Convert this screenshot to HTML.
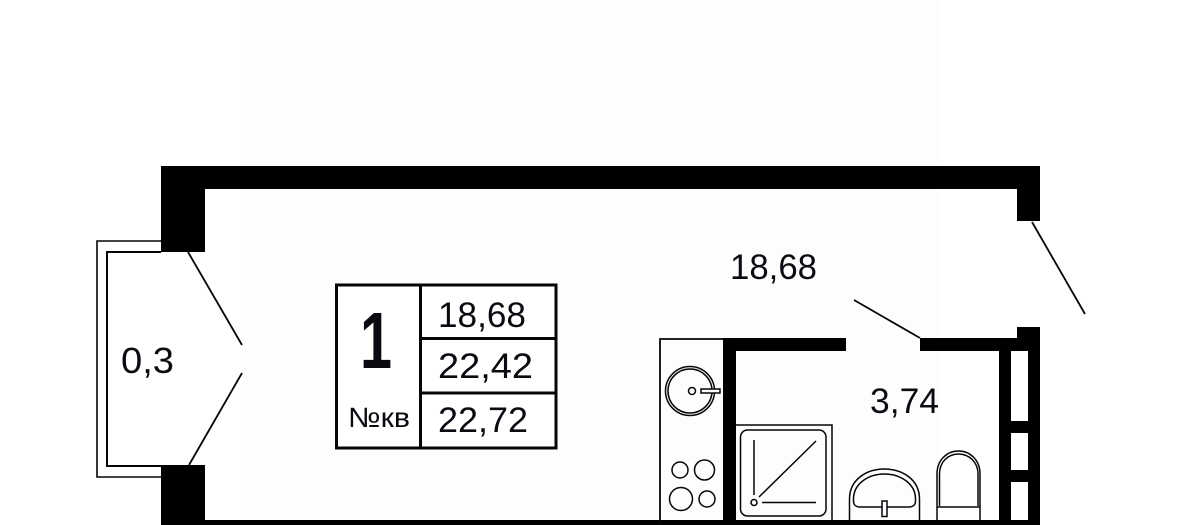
<!DOCTYPE html>
<html>
<head>
<meta charset="utf-8">
<style>
html,body{margin:0;padding:0;background:#fff;width:1182px;height:525px;overflow:hidden}
svg{display:block}
text{font-family:"Liberation Sans","DejaVu Sans",sans-serif;fill:#0a0a10}
</style>
</head>
<body>
<svg width="1182" height="525" viewBox="0 0 1182 525" xmlns="http://www.w3.org/2000/svg">
<rect width="1182" height="525" fill="#fff"/>
<rect x="240" y="0" width="700" height="525" fill="#fdfdfe"/>
<rect x="96" y="240" width="146" height="240" fill="#fff"/>
<!-- balcony -->
<g fill="none" stroke="#05050a" stroke-width="1.600">
<path d="M161 241H97V477H161"/>
<path d="M161 252H107V466H161" stroke-width="2"/>
</g>
<!-- walls -->
<g fill="#000">
<rect x="161" y="166" width="879" height="23"/>
<rect x="161" y="166" width="44" height="86"/>
<rect x="161" y="465" width="44" height="60"/>
<rect x="161" y="520" width="879" height="5"/>
<rect x="1017" y="166" width="23" height="55"/>
<rect x="1017" y="327" width="23" height="24"/>
<rect x="723" y="338" width="123" height="13"/>
<rect x="920" y="338" width="97" height="13"/>
<rect x="723" y="338" width="13" height="187"/>
<rect x="999" y="338" width="12" height="187"/>
<rect x="1028" y="327" width="12" height="198"/>
<rect x="999" y="421" width="41" height="12"/>
<rect x="999" y="470" width="41" height="12"/>
</g>
<!-- doors -->
<g stroke="#05050a" stroke-width="1.800" fill="none">
<path d="M188 252L242 345"/>
<path d="M242 373L189 465"/>
<path d="M1032 222L1085 314"/>
<path d="M854 300L920 338"/>
</g>
<!-- table -->
<g fill="none" stroke="#05050a" stroke-width="3">
<rect x="336.500" y="285" width="219.500" height="163" fill="#fff"/>
<path d="M420.500 285V448M420.500 338.500H556M420.500 393H556"/>
</g>
<text x="438" y="327" font-size="35" textLength="88" lengthAdjust="spacingAndGlyphs">18,68</text>
<text x="438" y="378" font-size="35" textLength="95" lengthAdjust="spacingAndGlyphs">22,42</text>
<text x="438" y="432" font-size="35" textLength="90" lengthAdjust="spacingAndGlyphs">22,72</text>
<text x="360" y="368" font-size="80" font-weight="700" textLength="32" lengthAdjust="spacingAndGlyphs">1</text>
<text x="348" y="427" font-size="28" textLength="62" lengthAdjust="spacingAndGlyphs">№кв</text>
<text x="730" y="279" font-size="35" textLength="87" lengthAdjust="spacingAndGlyphs">18,68</text>
<text x="870" y="413" font-size="35" textLength="69" lengthAdjust="spacingAndGlyphs">3,74</text>
<text x="121" y="373" font-size="36" textLength="53" lengthAdjust="spacingAndGlyphs">0,3</text>
<!-- kitchen -->
<g fill="none" stroke="#05050a" stroke-width="1.500">
<path d="M660 525V339H723" stroke-width="1.800"/>
<circle cx="690" cy="391" r="24.500"/>
<circle cx="690" cy="391" r="22"/>
<circle cx="692" cy="391" r="3.500"/>
<rect x="701" y="389" width="19" height="4" fill="#fff"/>
<circle cx="680" cy="470" r="8"/>
<circle cx="704.500" cy="470" r="10"/>
<circle cx="681" cy="499" r="11.500"/>
<circle cx="707" cy="499" r="8"/>
</g>
<!-- shower -->
<g fill="none" stroke="#05050a" stroke-width="1.500">
<path d="M736 425H832V520"/>
<rect x="740.500" y="430" width="85.500" height="86" rx="7"/>
<path d="M754 440V495"/>
<path d="M759 497L816 441"/>
<path d="M762 502.500H816"/>
<circle cx="754" cy="502.500" r="3"/>
</g>
<!-- basin -->
<g fill="none" stroke="#05050a" stroke-width="1.500">
<path d="M849.500 520V499C849.500 480 866 469 884.500 469C903 469 919.500 480 919.500 499V520"/>
<path d="M853.500 499C853.500 484 868 474 884.500 474C901 474 915.500 484 915.500 499V501C915.500 505 913 507 909 507H860C856 507 853.500 505 853.500 501Z"/>
<rect x="882" y="501" width="5" height="15.500" fill="#fff"/>
</g>
<!-- toilet -->
<g fill="none" stroke="#05050a" stroke-width="1.500">
<path d="M937 520V474C937 460 947 451 958.500 451C970 451 980 460 980 474V520"/>
<path d="M939.500 506V474C939.500 462 948 454 958.500 454C969 454 978 462 978 474V506"/>
<path d="M937 507H980"/>
</g>
</svg>
</body>
</html>
